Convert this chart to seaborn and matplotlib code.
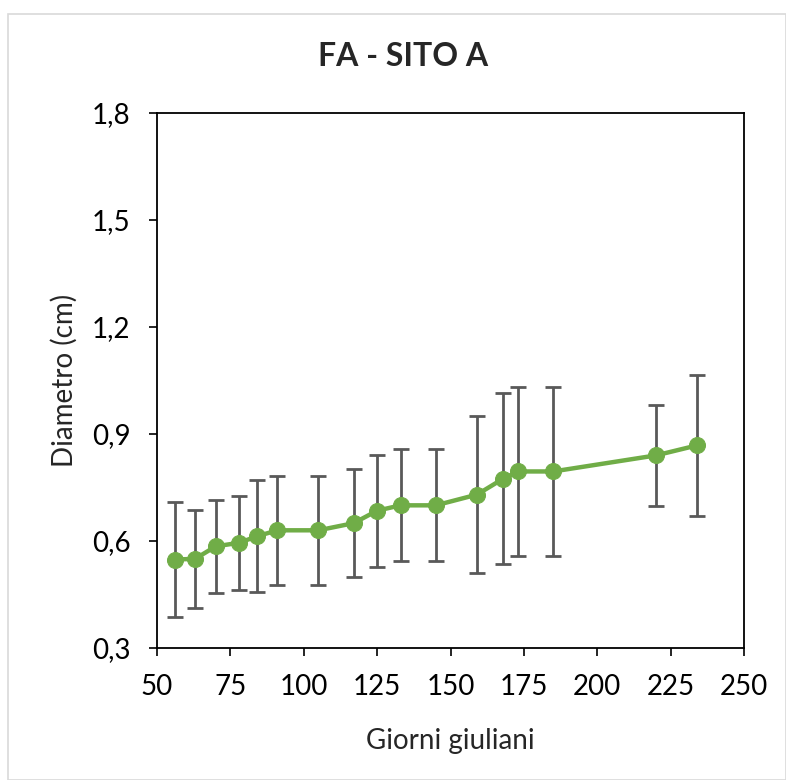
import matplotlib
matplotlib.use("Agg")
import matplotlib.pyplot as plt
import seaborn as sns
import pandas as pd
from matplotlib.ticker import FuncFormatter
from matplotlib.patches import Rectangle

days = [56, 63, 70, 78, 84, 91, 105, 117, 125, 133, 145, 159, 168, 173, 185, 220, 234]
diam = [0.548, 0.55, 0.585, 0.595, 0.613, 0.63, 0.63, 0.65, 0.685, 0.70, 0.70, 0.73, 0.775, 0.795, 0.795, 0.84, 0.868]
err = [0.16, 0.137, 0.13, 0.132, 0.157, 0.152, 0.152, 0.151, 0.157, 0.157, 0.157, 0.22, 0.24, 0.237, 0.237, 0.142, 0.198]
title = "FA - SITO A"
xlabel = "Giorni giuliani"
ylabel = "Diametro (cm)"

df = pd.DataFrame({"day": days, "diam": diam, "err": err})

sns.set_theme(style="white")
plt.rcParams['font.family'] = ['Lato', 'DejaVu Sans']

fig = plt.figure(figsize=(7.86, 7.8), dpi=100)
ax = fig.add_axes([157/786, 1-648/780, (744-157)/786, (648-113)/780])

ax.errorbar(df["day"], df["diam"], yerr=df["err"], fmt="none", ecolor="#595959",
            elinewidth=2, capsize=5.5, capthick=2, zorder=2)
sns.lineplot(data=df, x="day", y="diam", ax=ax, color="#70AD47", linewidth=3.2,
             marker="o", markersize=11.5, markeredgecolor="#70AD47", zorder=3)

ax.set_xlim(50, 250)
ax.set_ylim(0.3, 1.8)
ax.set_xticks(range(50, 251, 25))
ax.set_yticks([0.3, 0.6, 0.9, 1.2, 1.5, 1.8])
ax.yaxis.set_major_formatter(FuncFormatter(lambda v, p: f"{v:.1f}".replace(".", ",")))
ax.tick_params(axis="both", which="major", direction="out", length=6, width=1.2,
               labelsize=20, colors="black", bottom=True, left=True)
ax.tick_params(axis="y", pad=13)
ax.tick_params(axis="x", pad=13)
for s in ax.spines.values():
    s.set_color("black")
    s.set_linewidth(1.3)

ax.set_xlabel(xlabel, fontsize=20, labelpad=20)
ax.set_ylabel(ylabel, fontsize=20, labelpad=10)
ax.set_title(title, fontsize=23, fontweight="bold", pad=34, x=(403-157)/587)

fig.patches.append(Rectangle((8/786, 0), 1-8/786, 1-14/780, transform=fig.transFigure,
                             fill=False, edgecolor="#d9d9d9", linewidth=1.2))

fig.savefig("out.png", dpi=100)
